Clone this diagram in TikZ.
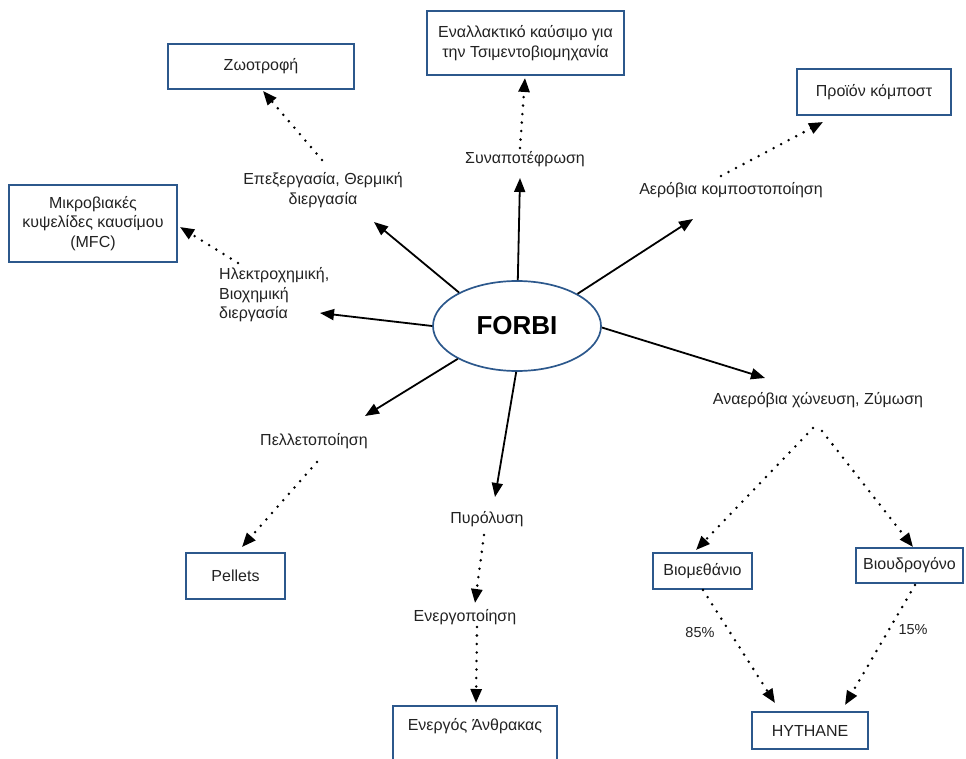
\documentclass[tikz,border=0pt]{standalone}
\usepackage{fontspec}
\setmainfont{Liberation Sans}
\usetikzlibrary{arrows.meta,shapes.geometric}
\definecolor{boxblue}{RGB}{44,88,140}
\definecolor{txt}{RGB}{34,34,34}
\begin{document}
\begin{tikzpicture}[x=1pt,y=-1pt,
  font=\fontsize{16}{19.5}\selectfont,
  box/.style={draw=boxblue, line width=2pt, align=center, text=txt, inner sep=0pt},
  lbl/.style={text=txt, align=center, inner sep=0pt},
  sol/.style={-{Triangle[length=14pt,width=11pt]}, line width=1.8pt, black},
  dotarr/.style={-{Triangle[length=14pt,width=11pt]}, line width=2.8pt, black, dash pattern=on 0pt off 8.5pt, line cap=round}]
\useasboundingbox (0,0) rectangle (966,759);

% central ellipse
\node[ellipse, draw=boxblue, line width=1.7pt, minimum width=168pt, minimum height=90pt, inner sep=0pt,
      font=\fontsize{26}{30}\selectfont\bfseries, text=black] (forbi) at (517,326) {FORBI};

% boxes
\node[box, minimum width=186pt, minimum height=45pt] (zoo) at (261,66.5) {Ζωοτροφή};
\node[box, minimum width=197pt, minimum height=64pt] (alt) at (525.5,43) {Εναλλακτικό καύσιμο για\\την Τσιμεντοβιομηχανία};
\node[box, minimum width=154pt, minimum height=46pt] (komp) at (874,92) {Προϊόν κόμποστ};
\node[box, minimum width=168pt, minimum height=77pt] (mfc) at (93,223.5) {Μικροβιακές\\κυψελίδες καυσίμου\\(MFC)};
\node[box, minimum width=99pt, minimum height=46pt] (pell) at (235.5,576) {Pellets};
\node[box, minimum width=164pt, minimum height=62pt, anchor=north] (carb) at (475,705) {Ενεργός Άνθρακας\\ \strut};
\node[box, minimum width=99pt, minimum height=36pt] (biom) at (702.5,571) {Βιομεθάνιο};
\node[box, minimum width=107pt, minimum height=35pt] (bioh) at (909.5,565.5) {Βιουδρογόνο};
\node[box, minimum width=116pt, minimum height=37pt] (hyth) at (810,730.5) {HYTHANE};

% process labels
\node[lbl] (epex) at (323,190) {Επεξεργασία, Θερμική\\διεργασία};
\node[lbl, align=left, anchor=west] (ilek) at (219,295) {Ηλεκτροχημική,\\Βιοχημική\\διεργασία};
\node[lbl] (syn) at (525,159) {Συναποτέφρωση};
\node[lbl] (aer) at (731,190) {Αερόβια κομποστοποίηση};
\node[lbl] (anaer) at (818,400) {Αναερόβια χώνευση, Ζύμωση};
\node[lbl] (pel) at (314,441) {Πελλετοποίηση};
\node[lbl] (pyr) at (487,519) {Πυρόλυση};
\node[lbl] (energ) at (465,617) {Ενεργοποίηση};
\node[lbl, font=\fontsize{14.5}{17}\selectfont] (p85) at (700,633) {85\%};
\node[lbl, font=\fontsize{14.5}{17}\selectfont] (p15) at (913,630) {15\%};

% arrow end points
\coordinate (tEpex) at (374,222);
\coordinate (tIlek) at (320,313);
\coordinate (tSyn) at (520,178);
\coordinate (tAer) at (693,219);
\coordinate (tAnaer) at (765,378);
\coordinate (tPel) at (365,416);
\coordinate (tPyr) at (495,497);

\coordinate (sEpex) at (322,160);
\coordinate (eZoo) at (263,91);
\coordinate (sIlek) at (238,263);
\coordinate (eMfc) at (180,227);
\coordinate (sSyn) at (520,148);
\coordinate (eAlt) at (525,78);
\coordinate (sAer) at (721,176);
\coordinate (eKomp) at (823,122);
\coordinate (sAnL) at (813,428);
\coordinate (eBiom) at (696,550);
\coordinate (sAnR) at (822,431);
\coordinate (eBioh) at (913,547);
\coordinate (sBiom) at (703,590);
\coordinate (eHyL) at (775,703);
\coordinate (sBioh) at (915,585);
\coordinate (eHyR) at (845,705);
\coordinate (sPel) at (317,462);
\coordinate (ePell) at (242,547);
\coordinate (sPyr) at (484,535);
\coordinate (eEnerg) at (475,603);
\coordinate (sEnerg) at (477,627);
\coordinate (eCarb) at (476,703);

% solid arrows from FORBI
\draw[sol] (forbi.150) -- (tEpex);
\draw[sol] (forbi.180) -- (tIlek);
\draw[sol] (forbi.89) -- (tSyn);
\draw[sol] (forbi.28) -- (tAer);
\draw[sol] (forbi.-1) -- (tAnaer);
\draw[sol] (forbi.209) -- (tPel);
\draw[sol] (forbi.269) -- (tPyr);

% dotted arrows
\draw[dotarr] (sEpex) -- (eZoo);
\draw[dotarr] (sIlek) -- (eMfc);
\draw[dotarr] (sSyn) -- (eAlt);
\draw[dotarr] (sAer) -- (eKomp);
\draw[dotarr] (sAnL) -- (eBiom);
\draw[dotarr] (sAnR) -- (eBioh);
\draw[dotarr] (sBiom) -- (eHyL);
\draw[dotarr] (sBioh) -- (eHyR);
\draw[dotarr] (sPel) -- (ePell);
\draw[dotarr] (sPyr) -- (eEnerg);
\draw[dotarr] (sEnerg) -- (eCarb);
\end{tikzpicture}
\end{document}
